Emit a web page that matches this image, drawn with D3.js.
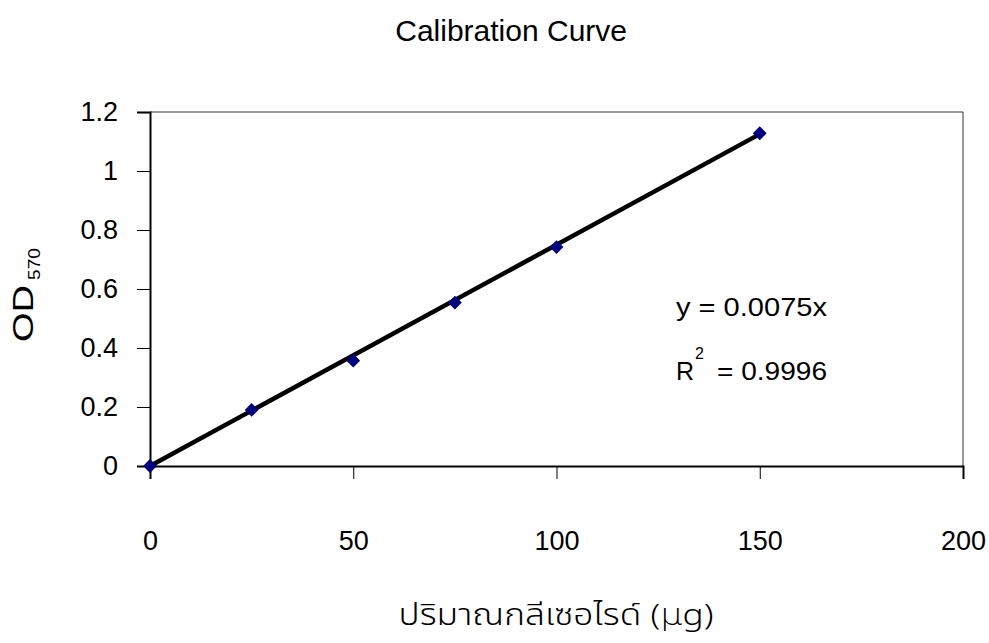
<!DOCTYPE html>
<html><head><meta charset="utf-8">
<script src="https://cdn.jsdelivr.net/npm/d3@7"></script>
<style>body{margin:0;background:#fff}svg{display:block}text{font-family:"Liberation Sans",Arial,sans-serif;fill:#000}</style>
</head><body>
<script>
const xValues = [0, 25, 50, 75, 100, 150];
const odValues = [0, 0.19, 0.357, 0.554, 0.742, 1.128];
const xTicks = [0, 50, 100, 150, 200];
const yTicks = [0, 0.2, 0.4, 0.6, 0.8, 1, 1.2];
const slope = 0.0075;
const title = "Calibration Curve";
const xTitle = "ปริมาณกลีเซอไรด์  (μg)";

const W = 989, H = 643;
const svg = d3.select("body").append("svg").attr("width", W).attr("height", H);
const x = d3.scaleLinear().domain([0, 200]).range([150, 963]);
const y = d3.scaleLinear().domain([0, 1.2]).range([466, 112]);

// frame top/right
svg.append("line").attr("x1", 150).attr("x2", 963).attr("y1", 112).attr("y2", 112).attr("stroke", "#333").attr("stroke-width", 1);
svg.append("line").attr("x1", 963).attr("x2", 963).attr("y1", 112).attr("y2", 466).attr("stroke", "#333").attr("stroke-width", 1);

const yAxis = svg.append("g").attr("transform", "translate(150,0)")
  .call(d3.axisLeft(y).tickValues(yTicks).tickSize(13).tickPadding(19).tickFormat(d => String(+d.toFixed(1))));
const xAxis = svg.append("g").attr("transform", "translate(0,466)")
  .call(d3.axisBottom(x).tickValues(xTicks).tickSize(13).tickPadding(52).tickFormat(d3.format("d")));
[yAxis, xAxis].forEach(g => {
  g.select(".domain").attr("stroke", "#000").attr("stroke-width", 2);
  g.selectAll(".tick line").attr("stroke", "#000").attr("stroke-width", 1);
  g.selectAll("text").attr("font-size", 27).attr("font-family", "Liberation Sans, Arial, sans-serif").attr("fill", "#000");
});

// trendline
svg.append("line")
  .attr("x1", x(0)).attr("y1", y(0))
  .attr("x2", x(150)).attr("y2", y(slope * 150))
  .attr("stroke", "#000").attr("stroke-width", 4.5);

// markers
svg.selectAll(".pt").data(xValues).enter().append("path")
  .attr("d", d3.symbol(d3.symbolSquare, 95))
  .attr("transform", (d, i) => `translate(${x(d)},${y(odValues[i])}) rotate(45)`)
  .attr("fill", "#000080");

svg.append("text").attr("x", 627).attr("y", 41).attr("text-anchor", "end").attr("font-size", 30).text(title);

svg.append("text").attr("x", 556).attr("y", 625).attr("text-anchor", "middle")
  .attr("font-size", 30).attr("textLength", 315).attr("lengthAdjust", "spacingAndGlyphs")
  .style("font-family", "'Noto Sans Thai','Loma','DejaVu Sans',sans-serif").style("font-weight", 300).text(xTitle);

svg.append("text").attr("transform", "translate(33,342) rotate(-90)").attr("font-size", 30)
  .attr("textLength", 57).attr("lengthAdjust", "spacingAndGlyphs").text("OD");
svg.append("text").attr("transform", "translate(40,280) rotate(-90)").attr("font-size", 17)
  .attr("textLength", 32).attr("lengthAdjust", "spacingAndGlyphs").text("570");

svg.append("text").attr("x", 676).attr("y", 316).attr("font-size", 25)
  .attr("textLength", 151).attr("lengthAdjust", "spacingAndGlyphs").text("y = 0.0075x");
svg.append("text").attr("x", 676).attr("y", 380).attr("font-size", 25).text("R");
svg.append("text").attr("x", 695).attr("y", 359).attr("font-size", 16).text("2");
svg.append("text").attr("x", 717).attr("y", 380).attr("font-size", 25)
  .attr("textLength", 110).attr("lengthAdjust", "spacingAndGlyphs").text("= 0.9996");
</script>
</body></html>
